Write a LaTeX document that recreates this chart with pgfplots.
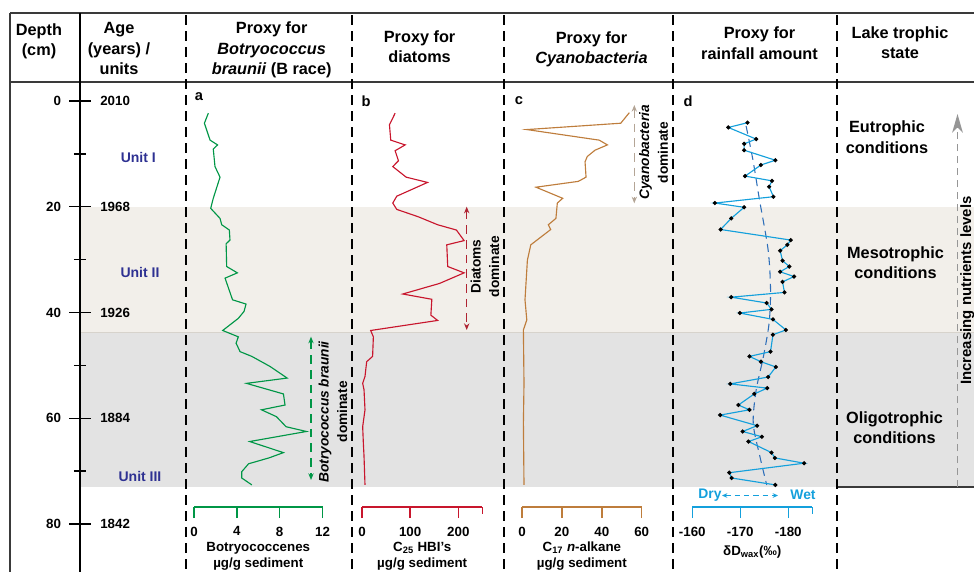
\documentclass[border=0pt]{standalone}
\usepackage{pgfplots}
\pgfplotsset{compat=1.18}
\usepackage{pgfplotstable}
\usepackage{fontspec}
\setmainfont{Liberation Sans}
\usetikzlibrary{arrows.meta}

\definecolor{cgreen}{RGB}{0,150,70}
\definecolor{cred}{RGB}{200,22,45}
\definecolor{cbrown}{RGB}{190,125,60}
\definecolor{cblue}{RGB}{20,160,220}
\definecolor{ctrend}{RGB}{45,110,185}
\definecolor{cunit}{RGB}{46,49,146}
\definecolor{cbeige}{RGB}{242,239,234}
\definecolor{cgray}{RGB}{227,227,227}
\definecolor{cbline}{RGB}{215,211,204}
\definecolor{cborder}{RGB}{58,58,58}
\definecolor{cdiat}{RGB}{175,35,50}
\definecolor{ccyan}{RGB}{180,165,150}
\definecolor{cnutr}{RGB}{150,150,150}

\newcommand{\fH}{\fontsize{12.2}{15.2}\selectfont\bfseries}
\newcommand{\fT}{\fontsize{10}{12}\selectfont\bfseries}
\newcommand{\fU}{\fontsize{10.5}{12}\selectfont\bfseries}
\newcommand{\fP}{\fontsize{11}{13}\selectfont\bfseries}
\newcommand{\fA}{\fontsize{10.3}{14}\selectfont\bfseries}
\newcommand{\fW}{\fontsize{10.4}{12}\selectfont\bfseries}
\newcommand{\fN}{\fontsize{11.2}{13}\selectfont\bfseries}

% Botryococcenes (ug/g) vs depth (cm)
\pgfplotstableread{
d v
2.3 1.34
4.2 0.97
7.4 1.5
8.3 2.2
9.1 1.8
12.4 1.96
14.4 2.43
18.4 1.8
20.3 1.56
22.2 2.43
23.4 2.59
24.4 3.3
26.3 3.36
27.0 3.0
31.3 3.05
32.5 4.05
33.5 2.9
37.6 3.6
38.4 4.86
39.8 4.67
41.1 4.14
43.4 2.68
44.6 4.14
45.8 3.93
47.4 4.3
48.3 5.4
50.2 7.1
52.4 8.7
53.4 4.9
55.4 8.35
57.5 8.5
58.4 6.3
59.7 7.7
61.6 8.6
62.5 10.5
64.4 5.2
66.5 8.35
67.5 7.0
68.6 5.1
70.1 4.46
71.3 4.46
72.6 5.4
}\botry

% C25 HBIs
\pgfplotstableread{
d v
2.3 68.8
4.5 57
7.4 59.7
8.3 89.6
9.4 68.8
11.3 75.7
12.4 63.9
14.4 91.7
15.4 136
18.0 72.2
19.3 63.9
20.5 72.2
21.9 117
23.4 157
24.4 196
26.4 212
27.2 176
31.3 178
32.5 212
34.5 161
36.5 84.7
37.5 145
40.5 143
41.5 157
43.4 18
44.6 23.6
48.3 22
49.3 9.7
52.1 6.2
53.4 1.4
54.6 4.2
58.4 6.2
61.6 1.4
64.7 2.8
67.2 4.2
72.6 6.2
}\hbi

% C17 n-alkane
\pgfplotstableread{
d v
2.2 53.8
4.2 49.5
5.4 2.4
7.4 38.7
8.3 42.8
9.3 36.6
10.5 32.7
11.5 31.6
14.4 32.1
15.2 28.2
16.3 7.0
18.4 20.4
19.3 17.7
22.2 17.0
23.4 13.2
24.3 14.4
27.2 4.4
30.1 2.7
37.6 1.5
41.4 2.4
43.3 0.7
53.4 1.0
60.9 0.7
72.6 1.0
}\alk

% dD wax
\pgfplotstableread{
d v
4.1 -171.5
5.0 -167.5
7.2 -173.3
8.1 -170.8
9.3 -170.8
11.2 -177.3
12.1 -174.3
14.2 -171.0
15.1 -176.6
16.2 -176.0
18.1 -176.9
19.3 -164.7
20.1 -170.8
22.2 -168.1
24.3 -165.9
26.3 -180.5
27.2 -179.8
28.3 -178.3
30.2 -178.8
31.3 -180.2
32.3 -178.3
33.2 -181.2
34.2 -178.8
36.2 -179.2
37.1 -168.1
38.2 -175.5
39.4 -176.5
40.1 -169.9
41.3 -176.8
43.3 -179.5
44.2 -176.8
47.4 -176.3
48.3 -171.9
49.3 -174.3
50.3 -177.4
52.2 -175.8
53.5 -167.9
54.3 -175.6
55.4 -172.9
57.5 -169.6
58.4 -171.9
59.4 -165.8
61.4 -173.5
62.5 -170.5
63.5 -174.5
64.4 -171.7
66.5 -176.5
67.5 -177.2
68.5 -183.3
70.3 -167.7
71.3 -168.2
72.6 -177.3
}\dD

% dD trend
\pgfplotstableread{
d v
4.7 -171.2
11 -172.6
18.7 -174.0
28.2 -175.8
35.7 -176.3
42 -176.0
48.4 -174.8
54.7 -173.3
61 -172.7
67.3 -174.1
72.6 -175.5
}\trend

\pgfplotsset{
  panel/.style={scale only axis, height=317.25pt, ymin=0, ymax=80, y dir=reverse,
    hide axis, clip=false, anchor=center},
  scalebar/.style={scale only axis, height=10pt, ymin=0, ymax=1, axis y line=none,
    axis x line*=bottom, tick align=outside, major tick length=8.25pt, anchor=south,
    xticklabel style={font=\fT, inner sep=0pt, anchor=north, yshift=-6.4pt},
    xlabel style={font=\fT, align=center, inner sep=0pt, at={(axis description cs:0.5,0)},
      anchor=north, yshift=-26.25pt},
    clip=false},
}

\begin{document}
\begin{tikzpicture}
% ---------- background bands ----------
\begin{axis}[scale only axis, hide axis, at={(60pt,-234.375pt)}, anchor=west,
  width=670.5pt, height=317.25pt, xmin=80, xmax=974, ymin=0, ymax=80, y dir=reverse, clip=false]
\addplot[fill=cbeige, draw=none] coordinates {(80,20) (974,20) (974,43.8) (80,43.8)};
\addplot[fill=cgray, draw=none] coordinates {(80,43.8) (974,43.8) (974,73) (80,73)};
\addplot[draw=cbline, line width=1.2pt] coordinates {(80,43.8) (974,43.8)};
\end{axis}

% ---------- frame and headers ----------
\begin{scope}[x=0.75pt, y=-0.75pt]
\draw[cborder, line width=1.9pt] (10,13) -- (974,13);
\draw[cborder, line width=1.5pt] (10,81.7) -- (974,81.7);
\draw[cborder, line width=1.5pt] (10,13) -- (10,572);
\draw[black, line width=1.1pt] (80,13) -- (80,572);
\foreach \xx in {186,352,504,673,837}
  \draw[black, line width=1.7pt, dash pattern=on 7.5pt off 4.5pt] (\xx,15) -- (\xx,572);
\draw[cborder, line width=1.1pt] (838,487) -- (974,487);

\node[align=center, font=\fH] at (39,41.5) {Depth\\(cm)};
\node[align=center, font=\fH] at (119,48.5) {Age\\(years) /\\units};
\node[align=center, font=\fH] at (271.7,50) {Proxy for\\\textit{Botryococcus}\\\textit{braunii} (B race)};
\node[align=center, font=\fH] at (419.6,46.5) {Proxy for\\diatoms};
\node[align=center, font=\fH] at (591.5,49.5) {Proxy for\\\textit{Cyanobacteria}};
\node[align=center, font=\fH] at (759.5,43.2) {Proxy for\\rainfall amount};
\node[align=center, font=\fH] at (900,42.7) {Lake trophic\\state};

\node[font=\fU, text=cunit] at (138.3,157.3) {Unit I};
\node[font=\fU, text=cunit] at (140,272.7) {Unit II};
\node[font=\fU, text=cunit] at (140,476) {Unit III};

\node[font=\fP] at (199,97) {a};
\node[font=\fP] at (366,101) {b};
\node[font=\fP] at (519,101) {c};
\node[font=\fP] at (688,101) {d};
\end{scope}

% ---------- depth and age axis ----------
\begin{axis}[scale only axis, at={(60pt,-234.375pt)}, anchor=west, width=5pt, height=317.25pt,
  xmin=0, xmax=1, ymin=0, ymax=80, y dir=reverse, axis x line=none, axis y line*=left,
  axis line style={draw=none}, ytick={0,20,40,60,80}, yticklabels={0,20,40,60,80},
  minor ytick={10,30,50,70},
  tick align=center, major tick length=16pt, minor tick length=9pt,
  tick style={black, line width=1.1pt},
  yticklabel style={font=\fT, anchor=east, inner sep=0pt, xshift=-6pt}, clip=false]
\addplot[draw=none] coordinates {(0,0) (1,80)};
\end{axis}
\begin{axis}[scale only axis, at={(60pt,-234.375pt)}, anchor=east, width=5pt, height=317.25pt,
  xmin=0, xmax=1, ymin=0, ymax=80, y dir=reverse, axis x line=none, axis y line*=right,
  axis line style={draw=none}, ytick={0,20,40,60,80}, yticklabels={2010,1968,1926,1884,1842},
  major tick length=0pt,
  yticklabel style={font=\fT, anchor=west, inner sep=0pt, xshift=15pt}, clip=false]
\addplot[draw=none] coordinates {(0,0) (1,80)};
\end{axis}

% ---------- panel a ----------
\begin{axis}[panel, at={(193.6875pt,-234.375pt)}, width=96.375pt, xmin=0, xmax=12]
\addplot[cgreen, line width=0.85pt] table[x=v, y=d] {\botry};
\end{axis}
\begin{axis}[scalebar, at={(193.6875pt,-380.25pt)}, width=96.375pt, xmin=0, xmax=12,
  xtick={0,4,8,12}, xticklabels={0,4,8,12},
  axis line style={cgreen, line width=1.1pt}, tick style={cgreen, line width=1.1pt},
  xlabel={Botryococcenes\\µg/g sediment}]
\addplot[draw=none] coordinates {(0,0)};
\end{axis}

% ---------- panel b ----------
\begin{axis}[panel, at={(316.65pt,-234.375pt)}, width=90.3pt, xmin=0, xmax=250]
\addplot[cred, line width=0.85pt] table[x=v, y=d] {\hbi};
\end{axis}
\begin{axis}[scalebar, at={(316.65pt,-380.25pt)}, width=90.3pt, xmin=0, xmax=250,
  xtick={0,100,200}, xticklabels={0,100,200}, extra x ticks={250}, extra x tick labels={},
  extra x tick style={major tick length=5pt},
  axis line style={cred, line width=1.1pt}, tick style={cred, line width=1.1pt},
  xlabel={C\textsubscript{25} HBI’s\\µg/g sediment}]
\addplot[draw=none] coordinates {(0,0)};
\end{axis}

% ---------- panel c ----------
\begin{axis}[panel, at={(436.39pt,-234.375pt)}, width=89.775pt, xmin=0, xmax=60]
\addplot[cbrown, line width=0.85pt] table[x=v, y=d] {\alk};
\end{axis}
\begin{axis}[scalebar, at={(436.39pt,-380.25pt)}, width=89.775pt, xmin=0, xmax=60,
  xtick={0,20,40,60}, xticklabels={0,20,40,60},
  axis line style={cbrown, line width=1.1pt}, tick style={cbrown, line width=1.1pt},
  xlabel={C\textsubscript{17} \textit{n}-alkane\\µg/g sediment}]
\addplot[draw=none] coordinates {(0,0)};
\end{axis}

% ---------- panel d ----------
\begin{axis}[panel, at={(564.225pt,-234.375pt)}, width=90pt, xmin=-185, xmax=-160, x dir=reverse]
\addplot[ctrend, line width=0.8pt, dash pattern=on 6pt off 4pt, smooth] table[x=v, y=d] {\trend};
\addplot[cblue, line width=0.85pt, mark=*, mark size=1.1pt, mark options={fill=black, draw=black}] table[x=v, y=d] {\dD};
\end{axis}
\begin{axis}[scalebar, at={(564.225pt,-380.25pt)}, width=90pt, xmin=-185, xmax=-160, x dir=reverse,
  xtick={-160,-170,-180}, xticklabels={-160,-170,-180}, extra x ticks={-185}, extra x tick labels={},
  extra x tick style={major tick length=5pt},
  axis line style={cblue, line width=1.1pt}, tick style={cblue, line width=1.1pt},
  xlabel style={yshift=-3pt},
  xlabel={δD\textsubscript{wax}(‰)}]
\addplot[draw=none] coordinates {(-170,0)};
\end{axis}

% ---------- annotations ----------
\begin{scope}[x=0.75pt, y=-0.75pt]
\node[font=\fA, align=center, rotate=90] at (333,411.7) {\textit{Botryococcus braunii}\\dominate};
\node[font=\fA, align=center, rotate=90] at (485,266.5) {Diatoms\\dominate};
\node[font=\fA, align=center, rotate=90] at (653.5,152.5) {\textit{Cyanobacteria}\\dominate};
\draw[cgreen, line width=0.9pt, dash pattern=on 6.5pt off 4.5pt,
  {Stealth[length=5pt,width=4pt]}-{Stealth[length=5pt,width=4pt]}] (311,336.7) -- (311,480);
\draw[cdiat, line width=0.9pt, dash pattern=on 6.5pt off 4.5pt,
  {Stealth[length=5pt,width=4pt]}-{Stealth[length=5pt,width=4pt]}] (466.7,206.7) -- (466.7,330);
\draw[ccyan, line width=0.9pt, dash pattern=on 6.5pt off 4.5pt,
  {Stealth[length=5pt,width=4pt]}-{Stealth[length=5pt,width=4pt]}] (634.3,105) -- (634.3,203.3);

\node[font=\fW, text=cblue] at (710,495) {Dry};
\node[font=\fW, text=cblue] at (803,495) {Wet};
\draw[cblue, line width=0.8pt, dash pattern=on 4pt off 3pt,
  {Stealth[length=4pt,width=3.5pt]}-{Stealth[length=4pt,width=3.5pt]}] (722,495.5) -- (778,495.5);

\node[align=center, font=\fH] at (887,137.3) {Eutrophic\\conditions};
\node[align=center, font=\fH] at (895.5,262.8) {Mesotrophic\\conditions};
\node[align=center, font=\fH] at (894.5,428) {Oligotrophic\\conditions};

\draw[cnutr, line width=1.1pt, dash pattern=on 5pt off 4pt,
  -{Stealth[length=14pt,width=8pt,inset=4pt]}] (957.5,487) -- (957.5,114);
\node[font=\fN, rotate=90, anchor=north, inner sep=0pt] at (960,290.5) {Increasing nutrients levels};

\pgfresetboundingbox
\path[use as bounding box] (0,0) rectangle (974,572);
\end{scope}
\end{tikzpicture}
\end{document}
